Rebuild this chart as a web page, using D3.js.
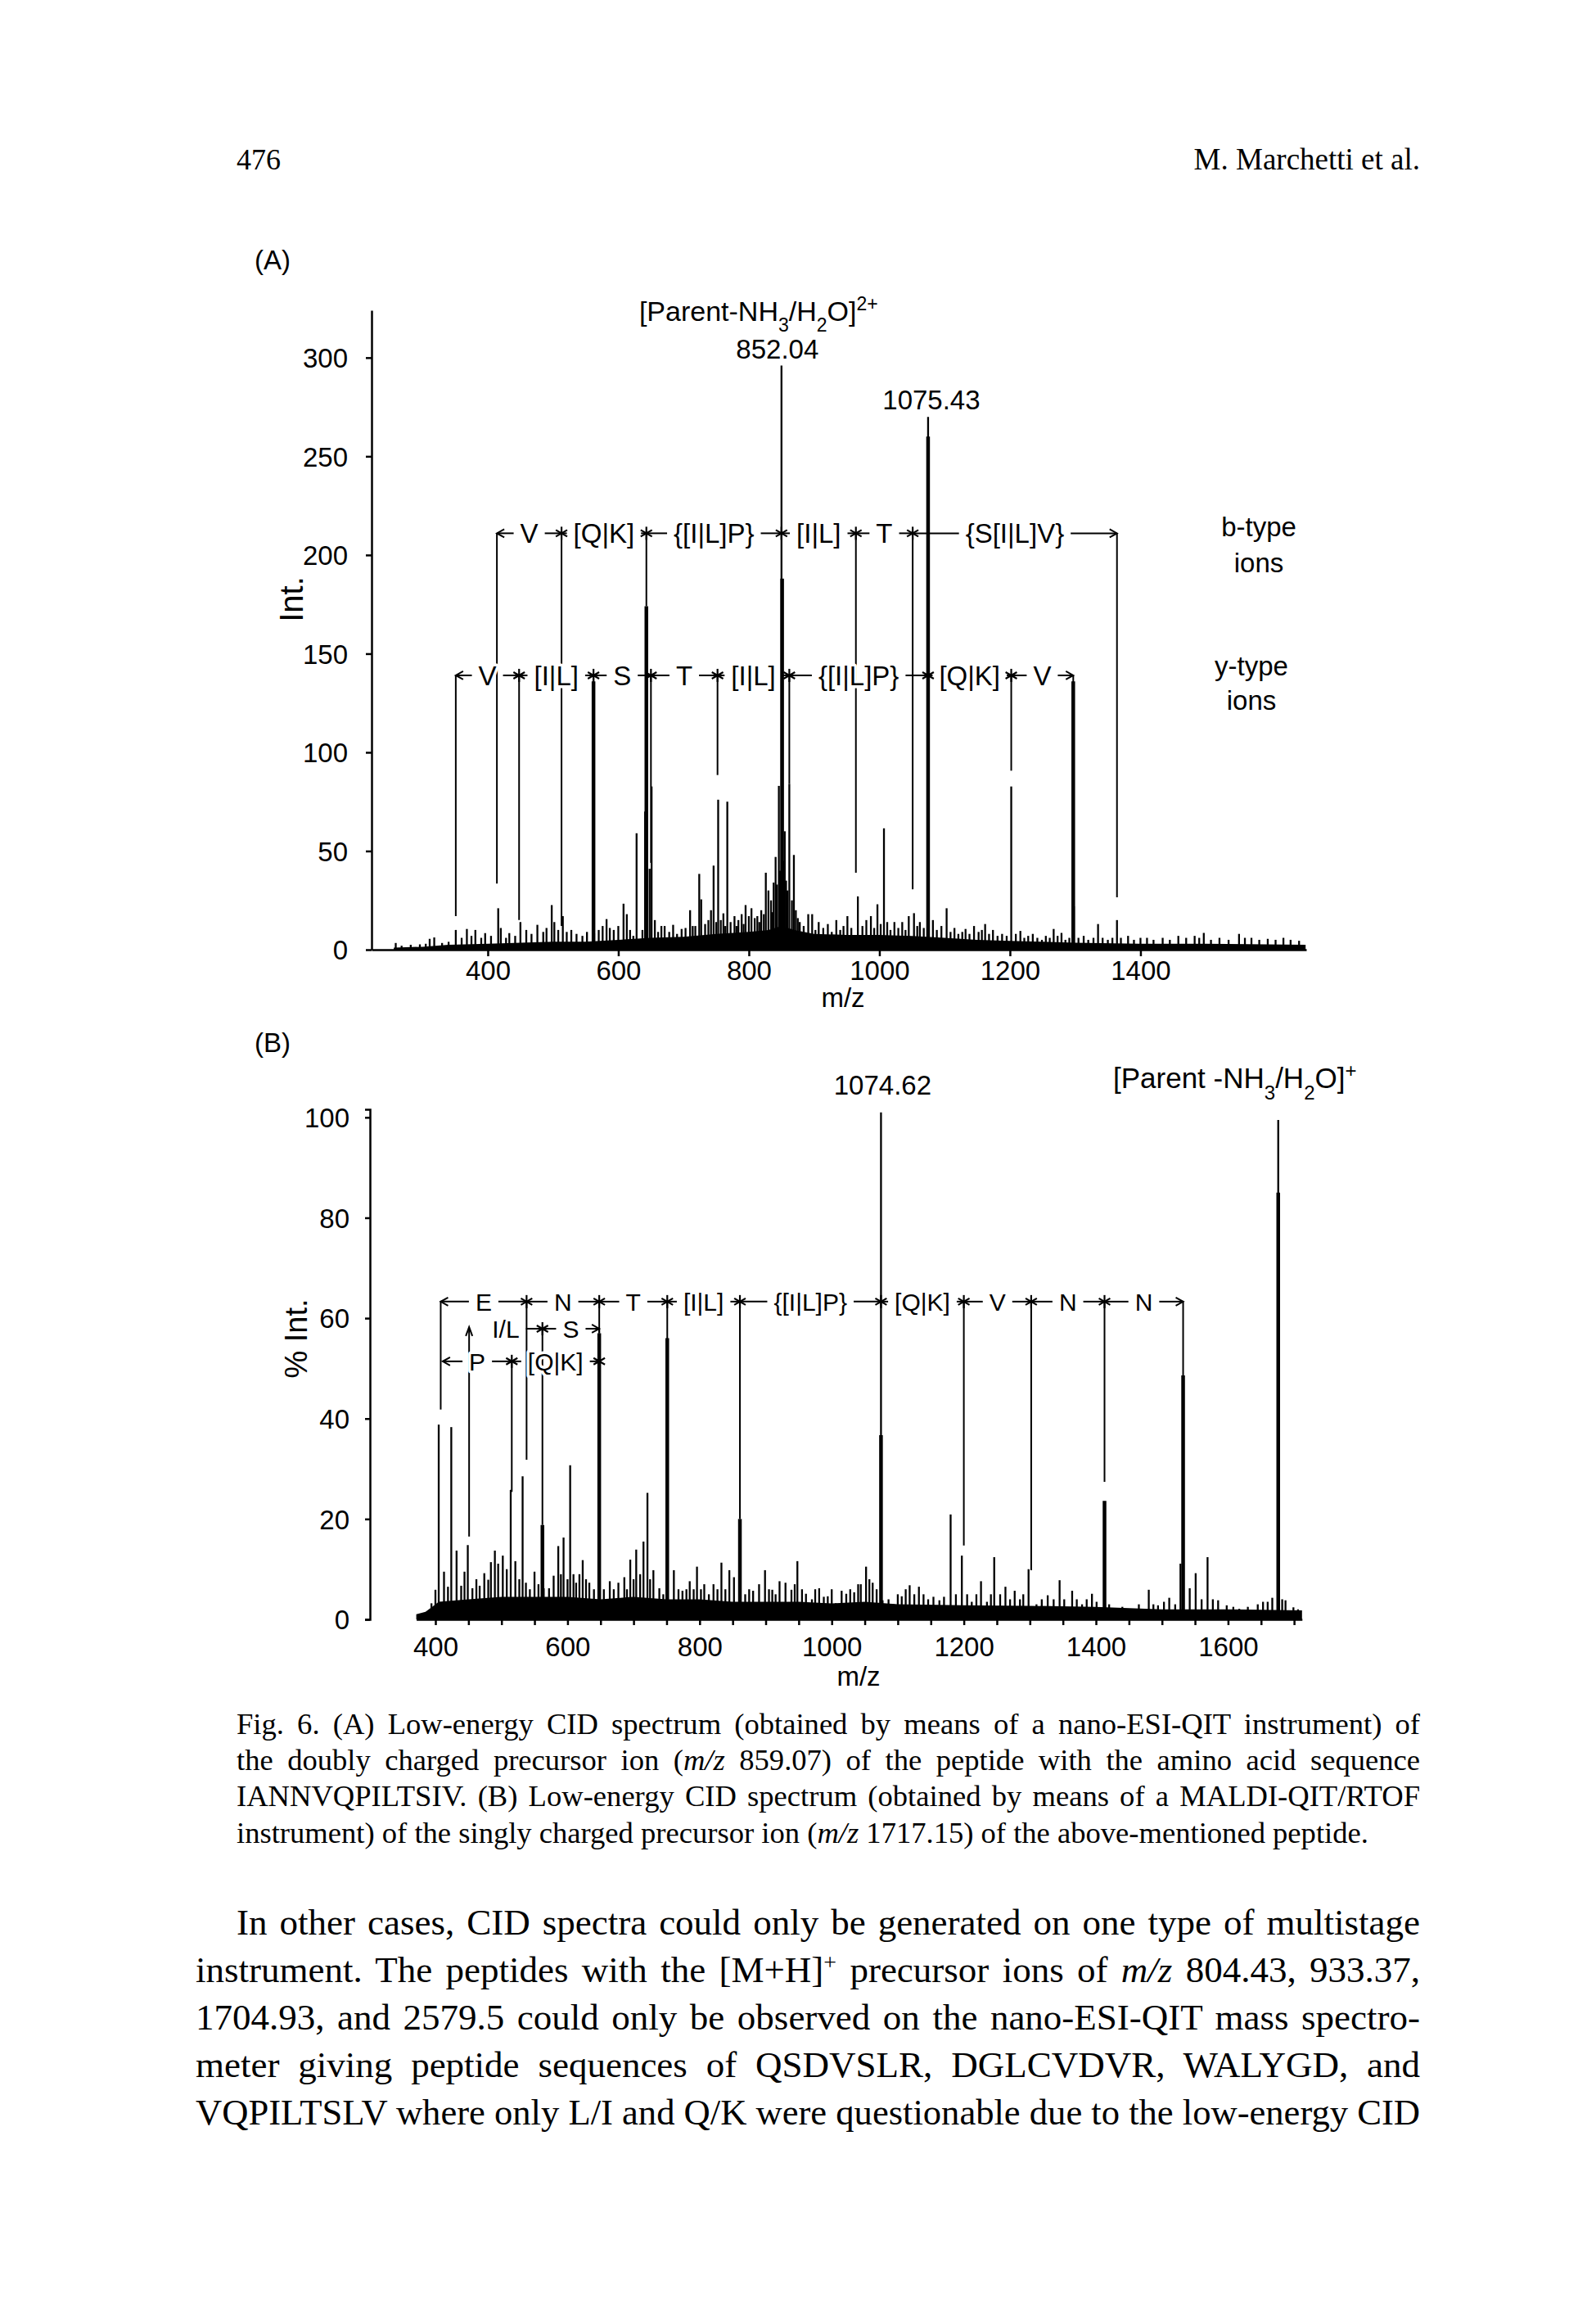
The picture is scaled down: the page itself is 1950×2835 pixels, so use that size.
<!DOCTYPE html>
<html><head><meta charset="utf-8">
<script src="https://cdn.jsdelivr.net/npm/d3@7/dist/d3.min.js"></script>
<style>
body{margin:0;background:#fff;}
.sans{font-family:"Liberation Sans",Arial,Helvetica,sans-serif;}
.serif{font-family:"Liberation Serif","Times New Roman",serif;}
</style></head><body>
<svg id="page" width="1950" height="2835"></svg>
<script>
// ---------------- Panel A data (Int.) ----------------
const xTicksA = [400,600,800,1000,1200,1400];
const yTicksA = [0,50,100,150,200,250,300];
const floorA = [[256,1],[300,1.5],[340,2.5],[400,3],[450,3.5],[500,4],[550,4],[600,5],[650,6],[700,6.5],[750,8],[800,9],[830,10],[850,12],[870,10],[900,8],[950,7.5],[1000,7.5],[1050,7],[1100,6],[1150,5],[1200,4.5],[1250,4],[1300,3.5],[1400,3],[1500,3],[1653,2.5]];
const spikesA = [[259,3.4],[268,2],[282,2.5],[296,2.7],[305,3],[311,5.5],[318,6.2],[330,3.4],[340,4],[351,10],[360,6],[368,10.5],[375,7],[381,10],[390,6],[396,8.4],[405,7],[416,21],[420,11],[428,6],[433,8.4],[442,7],[450,14],[459,10],[467,8],[476,12.6],[485,9],[490,11],[498,22.6],[502,14],[508,10],[515,17],[521,9],[528,10],[536,8],[545,7],[552,9],[563,8.4],[570,10],[576,12],[582,15.5],[587,11],[593,10],[600,12],[608,23.3],[613,18],[618,10],[623,7],[628,59],[637,10],[641,70],[648,41],[651,82.7],[656,15],[661,9],[666,12],[671,12],[678,9],[684,12.6],[690,8],[697,10.5],[703,11],[710,20],[714,12],[718,12],[724,38.4],[727,25.5],[733,13],[738,15],[742,20],[746,42.6],[750,14],[753,76],[757,15],[761,18.4],[764,12],[767,75],[772,14],[778,17],[781,12],[784,15],[789,18],[792,13],[795,22.6],[800,17],[804,21],[809,16],[813,17],[816,14],[819,20],[823,18],[826,39],[830,30],[834,25],[836,19],[838,34],[841,47],[843,33],[846,83],[848,40],[850,296],[853,45],[855,60],[857,35],[859,30],[862,84],[866,25],[869,48],[872,20],[875,16],[878,14],[884,12],[891,18],[897,18],[902,10],[907,14],[914,11],[921,13],[927,9],[934,15],[940,10],[945,12],[951,17],[957,11],[967,27],[974,12],[980,15],[987,17],[992,11],[997,23],[1002,13],[1007,61.5],[1012,14],[1017,10],[1023,14],[1029,11],[1035,14],[1040,10],[1045,17],[1053,18.5],[1058,12],[1062,14],[1068,11],[1074.6,270],[1082,15],[1088,10],[1095,12],[1103,21],[1109,9],[1115,11],[1121,8],[1127,9],[1132,10.5],[1138,8],[1145,12],[1152,9],[1157,10],[1162,13],[1168,8],[1174,10],[1181,7],[1188,8],[1195,7],[1202,82.7],[1209,8],[1216,9.5],[1222,6],[1228,7],[1235,8],[1242,6],[1249,5],[1255,7],[1261,6],[1267,10.5],[1273,7],[1279,8.5],[1285,5],[1291,6],[1298,22],[1305,6],[1313,7],[1320,5],[1328,6],[1335,13],[1342,6],[1350,5],[1357,6],[1364,15],[1370,6],[1381,7],[1390,5],[1400,6],[1410,6],[1420,5],[1434,6],[1445,5],[1458,7],[1470,6],[1483,7],[1490,6],[1497,8.5],[1508,5],[1521,6],[1535,5],[1551,8],[1560,6],[1570,6],[1582,5],[1595,5.5],[1607,5],[1619,6],[1630,5],[1643,4.5]];
const strongA = [[562,136],[643,174],[851,188],[1074.6,260],[1297,136]];
// b-type ion ladder (panel A)
const bLevelA = 211;
const bMarksA = [414,513,643,850,964,1051,1364];
const bLabelsA = ["V","[Q|K]","{[I|L]P}","[I|L]","T","{S[I|L]V}"];
const bBottomsA = [33.5,12,174,296,39,30.6,26.5];
// y-type ion ladder (panel A)
const yLevelA = 139;
const yMarksA = [351,448,562,650,752,862,1074.6,1202,1297];
const yLabelsA = ["V","[I|L]","S","T","[I|L]","{[I|L]P}","[Q|K]","V"];
const yBottomsA = [17,15,16,44,88.5,84,270,90.7,28.5];

// ---------------- Panel B data (% Int.) ----------------
const xTicksB = [400,600,800,1000,1200,1400,1600];
const xMinorTicksB = [400,450,500,550,600,650,700,750,800,850,900,950,1000,1050,1100,1150,1200,1250,1300,1350,1400,1450,1500,1550,1600,1650,1700];
const yTicksB = [0,20,40,60,80,100];
const floorB = [[371,1],[385,1.5],[395,2.5],[405,3.5],[450,4],[500,4.5],[550,4.5],[600,4.5],[650,4],[700,4.5],[750,4],[800,4],[850,3.5],[900,3.5],[950,3.5],[1000,3.2],[1050,3.5],[1100,3],[1200,2.8],[1300,2.7],[1400,2.5],[1500,2],[1600,2],[1712,1.8]];
const spikesB = [[394,3.2],[400,5.9],[405,38.8],[413,9.5],[419,6.5],[424,38.3],[432,13.7],[439,6.7],[444,9.5],[449,14.8],[456,6.2],[462,8],[467,6.7],[474,9.2],[480,7.9],[484,11.4],[490,13.7],[495,11.1],[502,12.7],[508,10],[514,25.8],[521,11.6],[527,8],[532,28.5],[537,7.3],[543,6],[550,9.5],[556,7],[564,6.2],[572,6.2],[579,8.7],[586,14.6],[590,9],[594,16.3],[600,8],[604,30.7],[609,9],[613,7.3],[618,9],[623,11.8],[628,8],[633,7.3],[640,6],[655,6],[664,7.6],[670,6],[677,7.3],[686,8.4],[690,6],[695,11.9],[700,8],[704,13.9],[710,9],[715,15.5],[721,25.2],[725,8],[730,9.8],[739,6.2],[745,5],[761,9.8],[768,6],[774,5.7],[780,6],[785,7.6],[791,6],[796,10.5],[802,6],[807,7],[814,5],[821,7],[827,6],[833,11.3],[839,6],[845,9.8],[852,8.4],[869,5],[875,6],[881,5.7],[890,7],[899,9.8],[905,6],[910,5.9],[915,5],[921,7.6],[930,7.3],[939,5.9],[944,7],[948,11.6],[955,6],[961,5.1],[970,4],[975,6],[981,6.2],[988,4.5],[994,4.6],[1000,6],[1006,3.2],[1015,5.7],[1022,5.1],[1028,6],[1034,5.4],[1040,7],[1044,7],[1052,10.5],[1057,8],[1062,7.3],[1068,6],[1074.6,101],[1077,3.8],[1086,4],[1094,3],[1100,5],[1106,4.6],[1112,6],[1118,6.8],[1125,5],[1132,6.5],[1139,5],[1146,4],[1154,4.5],[1163,3.8],[1170,4.5],[1180,20.9],[1188,5],[1197,12.7],[1205,5],[1212,3.5],[1219,5],[1226,7.6],[1235,3.5],[1241,5],[1246,12.4],[1255,5],[1263,6.5],[1270,4],[1277,5.7],[1285,4],[1290,5],[1298,10],[1310,3],[1318,4],[1327,4.8],[1336,4],[1345,7.8],[1352,4],[1364,5.7],[1371,4],[1379,3],[1386,4],[1394,5.1],[1401,3.5],[1420,3],[1432,1.9],[1440,2.5],[1451,2.1],[1465,3],[1480,5.9],[1487,3],[1494,2.8],[1503,3.5],[1511,4.3],[1520,3],[1528,11.1],[1542,6.2],[1551,9.2],[1560,4],[1569,12.4],[1577,4],[1585,3.8],[1598,2.8],[1608,2.5],[1617,2.1],[1630,2.5],[1645,3],[1653,3.5],[1660,3.5],[1667,4.3],[1676,99.5],[1682,4],[1687,3.8],[1699,2.4],[1706,2]];
const strongB = [[562,18.8],[648,57],[751,56],[861,20],[1074.6,36.7],[1413,23.6],[1532,48.6],[1676,85]];
const row1LevelB = 63.3;
const row1MarksB = [408,538,648,751,861,1074.6,1200,1302,1413,1532];
const row1LabelsB = ["E","N","T","[I|L]","{[I|L]P}","[Q|K]","V","N","N"];
const row1BottomsB = [41.8,31.8,57,11.6,20,101,14.7,9.8,27.4,13.9];
const row2LevelB = 57.9;
const row2MarksB = [451,562,648];
const row2LabelsB = ["I/L","S"];
const row2BottomsB = [16.5,18.8,57];
const row3LevelB = 51.4;
const row3MarksB = [411,515.6,648];
const row3LabelsB = ["P","[Q|K]"];
const row3BottomsB = [51.4,25.4,57];

// ---------------- Text ----------------
const captionLines = [
 "Fig. 6. (A) Low-energy CID spectrum (obtained by means of a nano-ESI-QIT instrument) of",
 "the doubly charged precursor ion (_m/z_ 859.07) of the peptide with the amino acid sequence",
 "IANNVQPILTSIV. (B) Low-energy CID spectrum (obtained by means of a MALDI-QIT/RTOF",
 "instrument) of the singly charged precursor ion (_m/z_ 1717.15) of the above-mentioned peptide."
];
const bodyLines = [
 "In other cases, CID spectra could only be generated on one type of multistage",
 "instrument. The peptides with the [M+H]^+^ precursor ions of _m/z_ 804.43, 933.37,",
 "1704.93, and 2579.5 could only be observed on the nano-ESI-QIT mass spectro-",
 "meter giving peptide sequences of QSDVSLR, DGLCVDVR, WALYGD, and",
 "VQPILTSLV where only L/I and Q/K were questionable due to the low-energy CID"
];

// ---------------- Drawing ----------------
const svg = d3.select("#page");
svg.append("rect").attr("width",1950).attr("height",2835).attr("fill","#fff");

function rich(sel, str, fs){
  sel.selectAll("tspan").remove();
  str.split(/(_[^_]+_|\^[^^]+\^)/).filter(s=>s.length).forEach(p=>{
    if(p[0]==="_") sel.append("tspan").attr("font-style","italic").text(p.slice(1,-1));
    else if(p[0]==="^") sel.append("tspan").attr("baseline-shift","super").attr("font-size",fs*0.62).text(p.slice(1,-1));
    else sel.append("tspan").text(p);
  });
}
function justify(t, str, target){
  const w = t.node().getComputedTextLength();
  const spaces = (str.match(/ /g)||[]).length;
  if(spaces>0 && target>w) t.attr("word-spacing",(target-w)/spaces);
  else if(w>target) t.attr("textLength",target).attr("lengthAdjust","spacingAndGlyphs");
}

// header
svg.append("text").attr("class","serif").attr("x",289).attr("y",207).attr("font-size",36).text("476");
svg.append("text").attr("class","serif").attr("x",1735).attr("y",207).attr("font-size",37).attr("text-anchor","end").text("M. Marchetti et al.");

function styleAxis(g, fs){
  g.select(".domain").attr("stroke","#000").attr("stroke-width",2.5);
  g.selectAll(".tick line").attr("stroke","#000").attr("stroke-width",2.5);
  g.selectAll(".tick text").attr("class","sans").attr("font-size",fs).attr("fill","#000");
}

function star(g,cx,cy){
  [90,30,150].forEach(a=>{
    const r=8, dx=r*Math.cos(a*Math.PI/180), dy=r*Math.sin(a*Math.PI/180);
    g.append("line").attr("x1",cx-dx).attr("y1",cy-dy).attr("x2",cx+dx).attr("y2",cy+dy).attr("stroke","#000").attr("stroke-width",2.2);
  });
}
function hline(g,x1,x2,yy){
  g.append("line").attr("x1",x1).attr("x2",x2).attr("y1",yy).attr("y2",yy).attr("stroke","#000").attr("stroke-width",2);
}

function drawRow(g, x, y, level, marks, labels, bottoms, fs, startType, endType){
  const ly = y(level);
  marks.forEach((m,i)=>{
    if(bottoms[i] < level-0.5)
      g.append("line").attr("x1",x(m)).attr("x2",x(m)).attr("y1",ly).attr("y2",y(bottoms[i])).attr("stroke","#000").attr("stroke-width",2);
  });
  labels.forEach((t,i)=>{
    const a=x(marks[i]), b=x(marks[i+1]), c=(a+b)/2;
    const te=g.append("text").attr("class","sans").attr("x",c).attr("y",ly).attr("dy","0.36em")
      .attr("text-anchor","middle").attr("font-size",fs).attr("fill","#000")
      .attr("stroke","#fff").attr("stroke-width",7).attr("paint-order","stroke").attr("stroke-linejoin","round").text(t);
    const w=te.node().getComputedTextLength();
    const gap=8;
    if(!(i===0 && startType==="up")){
      const ls=a, le=c-w/2-gap;
      if(le-ls>5) hline(g,ls,le,ly);
    }
    const rs=c+w/2+gap, re=b;
    if(re-rs>5) hline(g,rs,re,ly);
  });
  const a0=x(marks[0]);
  if(startType==="left"){
    g.append("path").attr("d",`M${a0+9},${ly-5}L${a0},${ly}L${a0+9},${ly+5}`).attr("fill","none").attr("stroke","#000").attr("stroke-width",2);
  } else if(startType==="up"){
    g.append("path").attr("d",`M${a0-4},${ly+9}L${a0},${ly-2}L${a0+4},${ly+9}`).attr("fill","none").attr("stroke","#000").attr("stroke-width",2);
  }
  for(let i=1;i<marks.length-1;i++) star(g,x(marks[i]),ly);
  const an=x(marks[marks.length-1]);
  if(endType==="arrow"){
    g.append("path").attr("d",`M${an-9},${ly-5}L${an},${ly}L${an-9},${ly+5}`).attr("fill","none").attr("stroke","#000").attr("stroke-width",2);
  } else star(g,an,ly);
}

function drawPeaks(g,x,y,floor,spikes,strong){
  g.append("path").datum(floor).attr("fill","#000")
    .attr("d",d3.area().x(d=>x(d[0])).y0(y(0)).y1(d=>y(d[1])));
  g.selectAll("line.sp").data(spikes).join("line").attr("class","sp")
    .attr("x1",d=>x(d[0])).attr("x2",d=>x(d[0])).attr("y1",y(0)).attr("y2",d=>y(d[1]))
    .attr("stroke","#000").attr("stroke-width",2.3);
  g.selectAll("line.st").data(strong).join("line").attr("class","st")
    .attr("x1",d=>x(d[0])).attr("x2",d=>x(d[0])).attr("y1",y(0)).attr("y2",d=>y(d[1]))
    .attr("stroke","#000").attr("stroke-width",4.5);
}

function parentLabel(g, x, yy, sup, fs){
  const p = g.append("text").attr("class","sans").attr("font-size",fs).attr("text-anchor","middle").attr("x",x).attr("y",yy);
  const s = Math.round(fs*0.68);
  p.append("tspan").text(sup==="+" ? "[Parent -NH" : "[Parent-NH");
  p.append("tspan").attr("baseline-shift","sub").attr("font-size",s).text("3");
  p.append("tspan").text("/H");
  p.append("tspan").attr("baseline-shift","sub").attr("font-size",s).text("2");
  p.append("tspan").text("O]");
  p.append("tspan").attr("baseline-shift","super").attr("font-size",s).text(sup);
}

// ================= Panel A =================
const xA = d3.scaleLinear().domain([222,1654]).range([454,1596]);
const yA = d3.scaleLinear().domain([0,324]).range([1160,379]);
const gA = svg.append("g");
gA.append("text").attr("class","sans").attr("x",333).attr("y",329).attr("font-size",33).attr("text-anchor","middle").text("(A)");
drawPeaks(gA,xA,yA,floorA,spikesA,strongA);
const axAx = gA.append("g").attr("transform","translate(0,1160)")
  .call(d3.axisBottom(xA).tickValues(xTicksA).tickFormat(d3.format("d")).tickSize(8).tickPadding(6).tickSizeOuter(0));
styleAxis(axAx,33);
const axAy = gA.append("g").attr("transform","translate(454,0)")
  .call(d3.axisLeft(yA).tickValues(yTicksA).tickFormat(d3.format("d")).tickSize(7).tickPadding(22).tickSizeOuter(0));
styleAxis(axAy,33);
axAy.selectAll(".tick text").attr("dy","0.36em");
gA.append("text").attr("class","sans").attr("font-size",40).attr("text-anchor","middle")
  .attr("transform","translate(356,732) rotate(-90)").attr("dy","0.36em").text("Int.");
gA.append("text").attr("class","sans").attr("font-size",33).attr("text-anchor","middle").attr("x",1030).attr("y",1230).text("m/z");
drawRow(gA,xA,yA,bLevelA,bMarksA,bLabelsA,bBottomsA,33,"left","arrow");
drawRow(gA,xA,yA,yLevelA,yMarksA,yLabelsA,yBottomsA,33,"left","arrow");
parentLabel(gA, xA(850)-28, 392, "2+", 34);
gA.append("text").attr("class","sans").attr("font-size",33).attr("text-anchor","middle").attr("x",xA(850)-5).attr("y",438).text("852.04");
gA.append("text").attr("class","sans").attr("font-size",33).attr("text-anchor","middle").attr("x",xA(1074.6)+4).attr("y",500).text("1075.43");
[["b-type",1538,655],["ions",1538,699],["y-type",1529,825],["ions",1529,867]].forEach(d=>{
  gA.append("text").attr("class","sans").attr("font-size",33).attr("text-anchor","middle").attr("x",d[1]).attr("y",d[2]).text(d[0]);
});

// ================= Panel B =================
const xB = d3.scaleLinear().domain([371,1712]).range([508.6,1590.8]);
const yB = d3.scaleLinear().domain([0,101.6]).range([1978,1355]);
const gB = svg.append("g");
gB.append("text").attr("class","sans").attr("x",333).attr("y",1285).attr("font-size",33).attr("text-anchor","middle").text("(B)");
drawPeaks(gB,xB,yB,floorB,spikesB,strongB);
const axBx = gB.append("g").attr("transform","translate(0,1978)")
  .call(d3.axisBottom(xB).tickValues(xMinorTicksB).tickFormat(d=>xTicksB.includes(d)?String(d):"").tickSize(7).tickPadding(15).tickSizeOuter(0));
styleAxis(axBx,33);
const axBy = gB.append("g").attr("transform","translate(452,0)")
  .call(d3.axisLeft(yB).tickValues(yTicksB).tickFormat(d3.format("d")).tickSize(6).tickPadding(19).tickSizeOuter(6));
styleAxis(axBy,33);
axBy.selectAll(".tick text").attr("dy","0.36em");
gB.append("text").attr("class","sans").attr("font-size",38).attr("text-anchor","middle")
  .attr("transform","translate(361,1635) rotate(-90)").attr("dy","0.36em").text("% Int.");
gB.append("text").attr("class","sans").attr("font-size",33).attr("text-anchor","middle").attr("x",1049).attr("y",2059).text("m/z");
drawRow(gB,xB,yB,row1LevelB,row1MarksB,row1LabelsB,row1BottomsB,30,"left","arrow");
drawRow(gB,xB,yB,row2LevelB,row2MarksB,row2LabelsB,row2BottomsB,30,"up","arrow");
drawRow(gB,xB,yB,row3LevelB,row3MarksB,row3LabelsB,row3BottomsB,30,"left","star");
gB.append("text").attr("class","sans").attr("font-size",33).attr("text-anchor","middle").attr("x",xB(1074.6)+2).attr("y",1337).text("1074.62");
parentLabel(gB, xB(1676)-53, 1329, "+", 35);

// ================= Caption & body =================
const capY = [2118,2162,2206,2251];
const probe = svg.append("text").attr("class","serif").attr("font-size",32).attr("x",0).attr("y",-100);
rich(probe, captionLines[3], 32);
const capFs = 32 * 1383 / probe.node().getComputedTextLength();
probe.remove();
captionLines.forEach((ln,i)=>{
  const t = svg.append("text").attr("class","serif").attr("x",289).attr("y",capY[i]).attr("font-size",capFs).attr("fill","#000");
  rich(t, ln, capFs);
  if(i<captionLines.length-1) justify(t, ln, 1446);
});
const bodyY = [2363,2421,2479,2537,2595];
bodyLines.forEach((ln,i)=>{
  const x0 = i===0 ? 289 : 239;
  const t = svg.append("text").attr("class","serif").attr("x",x0).attr("y",bodyY[i]).attr("font-size",45).attr("fill","#000");
  rich(t, ln, 45);
  justify(t, ln, 1735-x0);
});
</script></body></html>
